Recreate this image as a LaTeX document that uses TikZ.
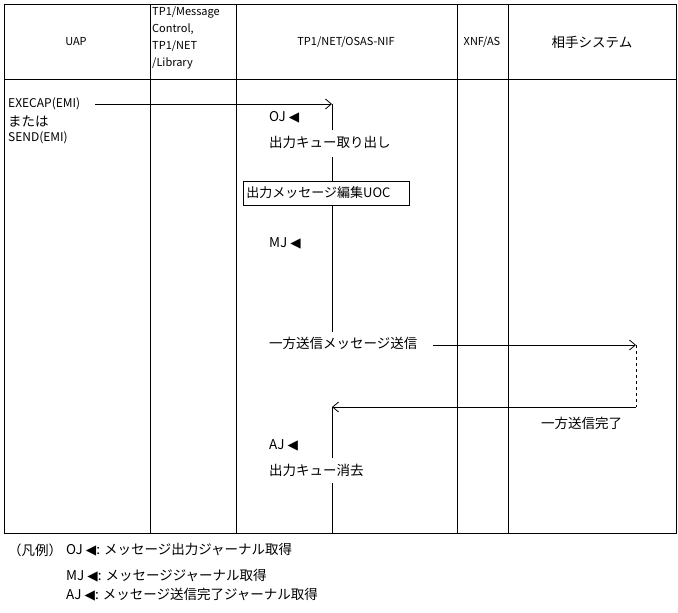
\documentclass[tikz,border=0pt]{standalone}
\usepackage{fontspec}
\setmainfont{Noto Sans CJK JP}
\newfontfamily\sym{DejaVu Sans}
\usetikzlibrary{arrows.meta}
\begin{document}
\begin{tikzpicture}[x=1pt,y=-1pt,
  lbl/.style={anchor=west,inner sep=0pt,font=\fontsize{13.5}{15}\selectfont},
  hdr/.style={inner sep=0pt,font=\fontsize{11}{17}\selectfont},
  line/.style={draw=black,line width=0.8pt},
  msg/.style={line,-{Straight Barb[length=6pt,width=10pt]}}]
\useasboundingbox (0,0) rectangle (678,613);
\draw[line] (4,4) rectangle (676,533);
\draw[line] (4,79) -- (676,79);
\foreach \x in {150,236,457,508} \draw[line] (\x,4) -- (\x,533);
\node[hdr] (h1) at (76,42) {UAP};
\node[hdr,anchor=north west,align=left] (h2) at (152,7) {TP1/Message\\Control,\\TP1/NET\\/Library};
\node[hdr] (h3) at (346,42) {TP1/NET/OSAS-NIF};
\node[hdr] (h4) at (482,42) {XNF/AS};
\node[hdr,font=\fontsize{13.5}{15}\selectfont] (h5) at (592,42) {相手システム};
\node[lbl,font=\fontsize{12}{14}\selectfont] (e1) at (8,104) {EXECAP(EMI)};
\node[lbl] (e2) at (8,121) {または};
\node[lbl,font=\fontsize{12}{14}\selectfont] (e3) at (8,138) {SEND(EMI)};
\coordinate (a0) at (95,104);
\coordinate (a1) at (332,104);
\draw[msg] (a0) -- (a1);
\node[lbl] (oj) at (269,117) {OJ {\sym ◀}};
\node[lbl] (t1) at (269,142) {出力キュー取り出し};
\node[draw,line,anchor=west,minimum height=24pt,minimum width=166pt,text width=160pt,inner sep=2pt,font=\fontsize{13}{14}\selectfont] (box) at (243,193) {出力メッセージ編集UOC};
\node[lbl] (mj) at (269,243) {MJ {\sym ◀}};
\node[lbl] (t2) at (269,343) {一方送信メッセージ送信};
\node[lbl] (aj) at (269,445) {AJ {\sym ◀}};
\node[lbl] (t3) at (269,470) {出力キュー消去};
\node[lbl] (t4) at (541,423) {一方送信完了};
\coordinate (v1) at (332,130);
\coordinate (v2) at (332,157);
\coordinate (v4) at (332,332);
\coordinate (r0) at (332,407);
\coordinate (v5) at (332,458);
\coordinate (v6) at (332,483);
\coordinate (v7) at (332,533);
\coordinate (s0) at (433,345);
\coordinate (s1) at (636,345);
\coordinate (s2) at (636,407);
\draw[line] (a1) -- (v1);
\draw[line] (v2) -- (box.north -| v2);
\draw[line] (box.south -| v2) -- (v4);
\draw[line] (r0) -- (v5);
\draw[line] (v6) -- (v7);
\draw[msg] (s0) -- (s1);
\draw[line,dashed] (s1) -- (s2);
\draw[msg] (s2) -- (r0);
\node[lbl] (g0) at (8,550) {（凡例）};
\node[lbl] (g1) at (66,550) {OJ {\sym ◀}: メッセージ出力ジャーナル取得};
\node[lbl] (g2) at (66,576) {MJ {\sym ◀}: メッセージジャーナル取得};
\node[lbl] (g3) at (66,595) {AJ {\sym ◀}: メッセージ送信完了ジャーナル取得};
\end{tikzpicture}
\end{document}
